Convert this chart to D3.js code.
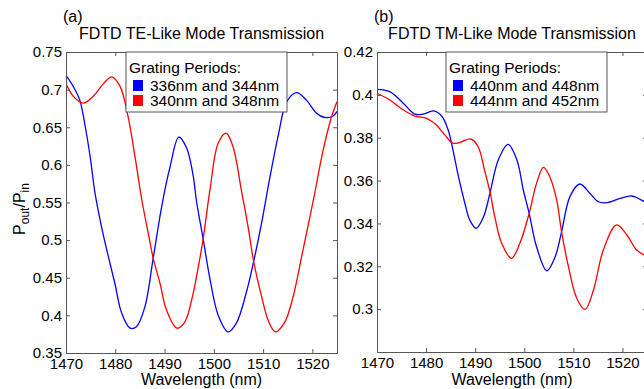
<!DOCTYPE html>
<html>
<head>
<meta charset="utf-8">
<script src="https://cdn.jsdelivr.net/npm/d3@7"></script>
<style>
  body { margin: 0; background: #fff; }
  svg text { font-family: "Liberation Sans", Arial, sans-serif; fill: #000; }
</style>
</head>
<body>
<script>
// TE-like panel (a)
var teBlueWl = [1470, 1471.5, 1472.8, 1473.9, 1474.9, 1475.9, 1477.2, 1478.6, 1479.9, 1481.3, 1483.0, 1484.3, 1486.0, 1487.7, 1489.4, 1491.1, 1492.9, 1494.5, 1495.8, 1496.5, 1497.8, 1499.2, 1500.9, 1502.9, 1504.6, 1506.7, 1508.1, 1509.7, 1511.4, 1513.1, 1514.8, 1516.8, 1518.8, 1520.8, 1522.5, 1524.2, 1525];
var teBlueT  = [0.719, 0.704, 0.686, 0.651, 0.611, 0.562, 0.518, 0.478, 0.443, 0.403, 0.383, 0.385, 0.411, 0.476, 0.544, 0.597, 0.637, 0.622, 0.586, 0.551, 0.503, 0.449, 0.400, 0.378, 0.390, 0.433, 0.472, 0.523, 0.584, 0.640, 0.684, 0.696, 0.686, 0.669, 0.663, 0.665, 0.671];
var teRedWl = [1470, 1471.5, 1473.5, 1475.5, 1477.6, 1479.3, 1481.0, 1482.6, 1484.0, 1485.4, 1486.7, 1487.7, 1489.1, 1490.4, 1492.5, 1494.1, 1495.8, 1496.5, 1497.8, 1499.2, 1500.9, 1502.5, 1503.9, 1505.6, 1506.9, 1508.1, 1509.7, 1511.0, 1512.5, 1514.4, 1516.1, 1518.1, 1520.2, 1522.2, 1523.9, 1525];
var teRedT  = [0.708, 0.691, 0.682, 0.691, 0.708, 0.717, 0.704, 0.664, 0.611, 0.553, 0.509, 0.476, 0.442, 0.407, 0.383, 0.391, 0.429, 0.452, 0.500, 0.566, 0.629, 0.642, 0.624, 0.566, 0.520, 0.471, 0.425, 0.394, 0.378, 0.391, 0.425, 0.487, 0.553, 0.620, 0.664, 0.684];

// TM-like panel (b)
var tmBlueWl = [1470, 1472.6, 1475.4, 1477.7, 1479.4, 1481.5, 1483.2, 1484.5, 1485.5, 1486.6, 1487.9, 1488.9, 1490.2, 1491.7, 1493.0, 1494.7, 1496.7, 1498.5, 1499.8, 1501.0, 1502.5, 1504.6, 1506.3, 1507.6, 1509.3, 1511.3, 1513.4, 1515.1, 1516.8, 1519.5, 1521.9, 1523.9, 1525];
var tmBlueT  = [0.4026, 0.4015, 0.396, 0.391, 0.391, 0.3925, 0.390, 0.3836, 0.374, 0.3618, 0.3494, 0.3416, 0.3377, 0.3431, 0.354, 0.3696, 0.3769, 0.3696, 0.3556, 0.3447, 0.3291, 0.3179, 0.3245, 0.3361, 0.3525, 0.3584, 0.354, 0.3501, 0.3497, 0.3517, 0.3528, 0.3509, 0.3495];
var tmRedWl = [1470, 1472.6, 1475.4, 1477.7, 1480.1, 1482.1, 1483.8, 1485.5, 1487.2, 1489.1, 1490.6, 1491.9, 1493.0, 1494.0, 1495.4, 1497.4, 1499.1, 1501.0, 1502.5, 1503.9, 1505.2, 1506.6, 1507.6, 1509.0, 1510.7, 1512.4, 1514.1, 1516.1, 1518.8, 1520.9, 1522.9, 1525];
var tmRedT  = [0.4007, 0.3976, 0.3929, 0.3901, 0.389, 0.3859, 0.3813, 0.3774, 0.3781, 0.3794, 0.3758, 0.3649, 0.3548, 0.3431, 0.3307, 0.3237, 0.3307, 0.3447, 0.3587, 0.3662, 0.3618, 0.3509, 0.3361, 0.3198, 0.305, 0.2999, 0.3089, 0.3276, 0.3393, 0.3346, 0.3276, 0.3245];

var xTicks = [1470, 1480, 1490, 1500, 1510, 1520];
var teYTicks = [0.35, 0.4, 0.45, 0.5, 0.55, 0.6, 0.65, 0.7, 0.75];
var tmYTicks = [0.3, 0.32, 0.34, 0.36, 0.38, 0.4, 0.42];
var teLegend = ["336nm and 344nm", "340nm and 348nm"];
var tmLegend = ["440nm and 448nm", "444nm and 452nm"];

var w = 644, h = 389;
var svg = d3.select("body").append("svg")
    .attr("width", w)
    .attr("height", h);

function drawPanel(p) {
    var x = d3.scaleLinear().domain([1470, 1525]).range([p.left, p.right]);
    var y = d3.scaleLinear().domain(p.yDomain).range([p.bottom, p.top]);
    var fmt = function(d) { return String(+d.toFixed(2)); };
    var g = svg.append("g");

    g.append("clipPath").attr("id", p.id + "clip")
        .append("rect")
        .attr("x", p.left).attr("y", p.top)
        .attr("width", p.right - p.left).attr("height", p.bottom - p.top);

    // lines
    var line = d3.line()
        .x(function(d) { return x(d[0]); })
        .y(function(d) { return y(d[1]); })
        .curve(d3.curveCatmullRom.alpha(0.5));
    p.series.forEach(function(s) {
        g.append("path")
            .datum(d3.zip(s.wl, s.t))
            .attr("clip-path", "url(#" + p.id + "clip)")
            .attr("fill", "none")
            .attr("stroke", s.color)
            .attr("stroke-width", 1.3)
            .attr("d", line);
    });

    // axes, matlab style inward ticks
    var axisColor = "#555";
    var left = g.append("g").attr("transform", "translate(" + p.left + ",0)")
        .call(d3.axisLeft(y).tickValues(p.yTicks).tickFormat(fmt).tickSize(-4).tickSizeOuter(0).tickPadding(4));
    var bottom = g.append("g").attr("transform", "translate(0," + p.bottom + ")")
        .call(d3.axisBottom(x).tickValues(xTicks).tickFormat(d3.format("d")).tickSize(-4).tickSizeOuter(0).tickPadding(5));
    var right = g.append("g").attr("transform", "translate(" + p.right + ",0)")
        .call(d3.axisRight(y).tickValues(p.yTicks).tickFormat("").tickSize(-4).tickSizeOuter(0));
    var top = g.append("g").attr("transform", "translate(0," + p.top + ")")
        .call(d3.axisTop(x).tickValues(xTicks).tickFormat("").tickSize(-4).tickSizeOuter(0));
    [left, bottom, right, top].forEach(function(a) {
        a.selectAll("path, line").attr("stroke", axisColor).attr("stroke-width", 1);
        a.selectAll("text").attr("font-size", 15).attr("fill", "#000")
            .attr("font-family", "'Liberation Sans', Arial, sans-serif");
    });

    // titles
    g.append("text").attr("x", p.left - 3).attr("y", 22)
        .attr("font-size", 16).text(p.tag);
    g.append("text").attr("x", (p.left + p.right) / 2 - p.titleShift).attr("y", 39)
        .attr("text-anchor", "middle").attr("font-size", 16).text(p.title);
    g.append("text").attr("x", (p.left + p.right) / 2 - p.titleShift).attr("y", 385)
        .attr("text-anchor", "middle").attr("font-size", 16).text("Wavelength (nm)");

    // legend
    var lg = g.append("g").attr("transform", "translate(" + p.legX + "," + p.top + ")");
    lg.append("rect").attr("x", 0).attr("y", 0).attr("width", 161).attr("height", 60)
        .attr("fill", "#fff").attr("stroke", axisColor).attr("stroke-width", 1);
    lg.append("text").attr("x", 3).attr("y", 21).attr("font-size", 15.5).text("Grating Periods:");
    p.series.forEach(function(s, i) {
        lg.append("rect").attr("x", 7).attr("y", 28 + i * 15).attr("width", 10).attr("height", 11)
            .attr("fill", s.color);
        lg.append("text").attr("x", 24).attr("y", 39 + i * 15).attr("font-size", 15.5).text(p.legend[i]);
    });
}

drawPanel({
    id: "te", tag: "(a)", title: "FDTD TE-Like Mode Transmission", titleShift: 0,
    left: 66, right: 337, top: 52, bottom: 353,
    yDomain: [0.35, 0.75], yTicks: teYTicks, legX: 126, legend: teLegend,
    series: [
        { wl: teBlueWl, t: teBlueT, color: "#0000ff" },
        { wl: teRedWl, t: teRedT, color: "#ff0000" }
    ]
});
drawPanel({
    id: "tm", tag: "(b)", title: "FDTD TM-Like Mode Transmission", titleShift: 0,
    left: 377, right: 647, top: 52, bottom: 352,
    yDomain: [0.28, 0.42], yTicks: tmYTicks, legX: 446, legend: tmLegend,
    series: [
        { wl: tmBlueWl, t: tmBlueT, color: "#0000ff" },
        { wl: tmRedWl, t: tmRedT, color: "#ff0000" }
    ]
});

// y label P_out/P_in
var yl = svg.append("text")
    .attr("transform", "translate(25,209) rotate(-90)")
    .attr("text-anchor", "middle")
    .attr("font-size", 16);
yl.append("tspan").text("P");
yl.append("tspan").attr("font-size", 12).attr("dy", 4).text("out");
yl.append("tspan").attr("dy", -4).text("/P");
yl.append("tspan").attr("font-size", 12).attr("dy", 4).text("in");
</script>
</body>
</html>
